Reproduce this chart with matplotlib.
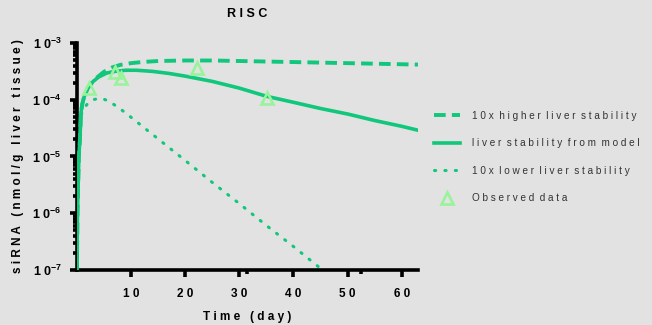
import numpy as np
import matplotlib.pyplot as plt
from matplotlib.ticker import LogLocator, FixedLocator, NullFormatter

# model curves (time in days, RISC siRNA in nmol/g liver tissue)
t_high = [0, 0.1, 0.35, 0.55, 0.75, 1.0, 1.3, 2, 3, 4, 5, 6.5, 8, 10, 12, 15, 20, 25, 30, 40, 50, 63]
y_high = [1e-7, 1e-6, 1e-5, 2e-5, 6e-5, 8.5e-5, 1.1e-4, 1.6e-4, 2.15e-4, 2.6e-4, 3.1e-4, 3.7e-4,
          4.1e-4, 4.4e-4, 4.6e-4, 4.8e-4, 4.9e-4, 4.9e-4, 4.8e-4, 4.6e-4, 4.4e-4, 4.15e-4]

t_model = [0, 0.1, 0.35, 0.55, 0.75, 1.0, 1.3, 2, 3, 4, 5.5, 7, 9, 11, 14, 17, 20, 25, 30, 35,
           40, 45, 50, 55, 60, 63]
y_model = [1e-7, 1e-6, 1e-5, 2e-5, 6e-5, 8.5e-5, 1.1e-4, 1.6e-4, 2.1e-4, 2.5e-4, 2.95e-4, 3.15e-4,
           3.3e-4, 3.3e-4, 3.15e-4, 2.9e-4, 2.6e-4, 2.1e-4, 1.6e-4, 1.15e-4, 9e-5, 7e-5, 5.6e-5,
           4.3e-5, 3.4e-5, 2.9e-5]

t_low = [0, 0.1, 0.35, 0.55, 0.75, 1.0, 1.5, 2.2, 3, 4, 5, 6, 8, 10, 15, 20, 25, 30, 35, 40, 45, 50]
y_low = [1e-7, 1e-6, 1e-5, 2e-5, 5e-5, 6.5e-5, 7.5e-5, 9e-5, 1.0e-4, 1.05e-4, 1.02e-4, 9.3e-5,
         6.9e-5, 4.9e-5, 2.04e-5, 8.5e-6, 3.5e-6, 1.48e-6, 6.1e-7, 2.6e-7, 1.07e-7, 4.4e-8]

# observed data
t_obs = [2.2, 7.0, 8.1, 22.2, 35.2]
y_obs = [1.6e-4, 3.1e-4, 2.4e-4, 3.6e-4, 1.07e-4]

labels = ['10x higher liver stability', 'liver stability from model',
          '10x lower liver stability', 'Observed data']
xticks = [10, 20, 30, 40, 50, 60]
yexp = [-7, -6, -5, -4, -3]

green = '#10c77c'
light = '#98f49a'
bg = '#e2e2e2'


def spaced(s, gap='   '):
    # the original renders its text with wide letter spacing
    return gap.join(' '.join(w) for w in s.split(' '))


plt.rcParams['font.family'] = ['Liberation Sans', 'DejaVu Sans']
plt.rcParams['mathtext.fontset'] = 'custom'
plt.rcParams['mathtext.rm'] = 'Liberation Sans'
plt.rcParams['mathtext.bf'] = 'Liberation Sans:bold'

fig = plt.figure(figsize=(6.52, 3.25), dpi=100, facecolor=bg)
ax = fig.add_axes([0.118, 0.169, 0.523, 0.699], facecolor=bg)

ax.plot(t_low, y_low, color=green, lw=2.2, linestyle=(0, (0.4, 3.0)), dash_capstyle='round',
        label=spaced(labels[2], '  '), zorder=2)
ax.plot(t_high, y_high, color=green, lw=2.8, linestyle=(0, (3.0, 1.6)),
        label=spaced(labels[0], '  '), zorder=3)
ax.plot(t_model, y_model, color=green, lw=2.6, label=spaced(labels[1], '  '), zorder=4)
ax.plot(t_obs, y_obs, linestyle='none', marker='^', markersize=9, markerfacecolor='none',
        markeredgecolor=light, markeredgewidth=1.9, label=spaced(labels[3], '  '), zorder=5)

ax.set_yscale('log')
ax.set_ylim(1e-7, 1e-3)
ax.set_xlim(0, 63)
ax.set_xticks(xticks)
ax.set_xticklabels([spaced(str(v)) for v in xticks])
ax.xaxis.set_minor_locator(FixedLocator([31.5, 52.5]))
ax.yaxis.set_minor_locator(LogLocator(base=10, subs=np.arange(2, 10), numticks=10))
ax.yaxis.set_minor_formatter(NullFormatter())
ax.set_yticks([10.0 ** e for e in yexp])
ax.set_yticklabels([r'1 0$^{\mathbf{%d}}$' % e for e in yexp])

for s in ['top', 'right']:
    ax.spines[s].set_visible(False)
for s in ['left', 'bottom']:
    ax.spines[s].set_linewidth(2.6)
ax.tick_params(axis='both', which='major', direction='out', width=2.6, length=5,
               labelsize=8.5, colors='black')
ax.tick_params(axis='both', which='minor', direction='out', width=2.6, length=3)
for lab in ax.get_xticklabels() + ax.get_yticklabels():
    lab.set_fontweight('bold')
ax.tick_params(axis='x', pad=8)
ax.tick_params(axis='y', pad=6, labelsize=9)

ax.set_title(spaced('RISC'), fontsize=9, fontweight='bold', pad=19)
ax.set_xlabel(spaced('Time (day)'), fontsize=8.5, fontweight='bold', labelpad=8)
ax.set_ylabel(spaced('siRNA (nmol/g liver tissue)'), fontsize=8.5, fontweight='bold', labelpad=6)

h, l = ax.get_legend_handles_labels()
order = [1, 2, 0, 3]
leg = ax.legend([h[i] for i in order], [l[i] for i in order], loc='upper left',
                bbox_to_anchor=(1.02, 0.74), frameon=False, fontsize=7.2,
                handlelength=2.6, labelspacing=1.75, handletextpad=1.2)
for txt in leg.get_texts():
    txt.set_color('#333333')

fig.savefig('out.png', dpi=100, facecolor=bg)
